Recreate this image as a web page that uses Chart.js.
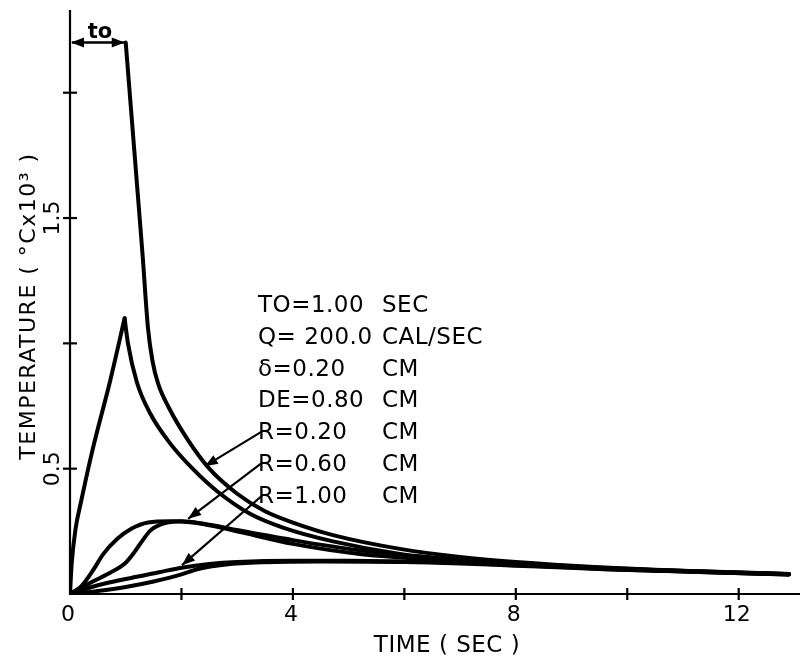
<!doctype html>
<html>
<head>
<script src="https://cdn.jsdelivr.net/npm/chart.js@4.4.0/dist/chart.umd.min.js"></script>
<style>
  body { margin: 0; background: #fff; }
  #wrap { width: 800px; height: 663px; }
</style>
<script>
// time (sec) and temperature (degC x 10^3)
const timeA = [1.0, 1.1, 1.2, 1.3, 1.4, 1.48, 1.58, 1.77, 2.1, 2.5, 3.0, 3.5, 4.0, 4.72, 5.92, 7.0, 8.0, 9.5, 11.3, 12.9];
const tempA = [2.2, 1.92, 1.64, 1.36, 1.06, 0.93, 0.84, 0.745, 0.62, 0.5, 0.4, 0.33, 0.285, 0.235, 0.18, 0.148, 0.128, 0.107, 0.09, 0.08];

const timeB = [0, 0.03, 0.1, 0.2, 0.41, 0.72, 0.98, 1.04, 1.2, 1.44, 1.8, 2.2, 2.64, 3.23, 3.82, 4.72, 5.92, 7.0, 8.0, 9.5, 11.3, 12.9];
const tempB = [0, 0.12, 0.26, 0.37, 0.58, 0.85, 1.1, 1.0, 0.845, 0.72, 0.6, 0.5, 0.41, 0.32, 0.265, 0.21, 0.16, 0.135, 0.12, 0.1, 0.088, 0.078];

const timeC1 = [0, 0.2, 0.4, 0.6, 0.85, 1.1, 1.4, 1.8, 2.2, 2.6, 3.1, 4.0, 5.2, 7.0, 8.0, 9.5, 11.3, 12.9];
const tempC1 = [0, 0.03, 0.09, 0.16, 0.22, 0.26, 0.285, 0.29, 0.285, 0.27, 0.245, 0.2, 0.16, 0.132, 0.12, 0.103, 0.09, 0.079];

const timeC2 = [0, 0.41, 0.72, 1.0, 1.15, 1.3, 1.44, 1.62, 2.0, 2.4, 3.0, 4.0, 5.0, 6.0, 7.0, 8.0, 9.5, 11.3, 12.9];
const tempC2 = [0, 0.05, 0.085, 0.125, 0.165, 0.213, 0.253, 0.277, 0.29, 0.28, 0.255, 0.215, 0.18, 0.155, 0.138, 0.123, 0.105, 0.091, 0.08];

const timeD1 = [0, 0.5, 1.0, 1.6, 2.0, 2.5, 3.0, 4.0, 5.0, 6.0, 7.0, 8.0, 9.5, 11.3, 12.9];
const tempD1 = [0, 0.035, 0.06, 0.087, 0.105, 0.12, 0.128, 0.133, 0.133, 0.13, 0.125, 0.115, 0.102, 0.089, 0.079];

const timeD2 = [0, 0.5, 1.0, 1.5, 2.0, 2.3, 2.8, 3.5, 4.5, 6.0, 7.0, 8.0, 9.5, 11.3, 12.9];
const tempD2 = [0, 0.012, 0.028, 0.05, 0.078, 0.1, 0.118, 0.127, 0.13, 0.128, 0.122, 0.113, 0.1, 0.088, 0.078];

const xTicks = [2, 4, 6, 8, 10, 12];
const xTickLabels = ['0', '4', '8', '12'];
const yTicks = [0.5, 1.0, 1.5, 2.0];
const yTickLabels = ['0.5', '1.5'];

const paramNames = ['TO=1.00', 'Q= 200.0', 'δ=0.20', 'DE=0.80', 'R=0.20', 'R=0.60', 'R=1.00'];
const paramUnits = ['SEC', 'CAL/SEC', 'CM', 'CM', 'CM', 'CM', 'CM'];

const pulseLength = 1.0;
const pulsePeak = 2.2;
// pointer arrows from the R labels to the curves: [fromX, fromY, toX, toY] in data units
const pointers = [
  [3.47, 0.652, 2.42, 0.51],
  [3.45, 0.524, 2.12, 0.30],
  [3.47, 0.397, 2.01, 0.115]
];

function pts(xs, ys) {
  return xs.map(function (x, i) { return { x: x, y: ys[i] }; });
}

function arrowHead(ctx, x1, y1, x2, y2) {
  const a = Math.atan2(y2 - y1, x2 - x1);
  const len = 13, w = 5;
  ctx.beginPath();
  ctx.moveTo(x2, y2);
  ctx.lineTo(x2 - len * Math.cos(a) + w * Math.sin(a), y2 - len * Math.sin(a) - w * Math.cos(a));
  ctx.lineTo(x2 - len * Math.cos(a) - w * Math.sin(a), y2 - len * Math.sin(a) + w * Math.cos(a));
  ctx.closePath();
  ctx.fill();
}

const paperAxes = {
  id: 'paperAxes',
  afterDraw: function (chart) {
    const ctx = chart.ctx;
    const xs = chart.scales.x, ys = chart.scales.y;
    const x0 = xs.getPixelForValue(0), y0 = ys.getPixelForValue(0);
    ctx.save();
    ctx.strokeStyle = '#000';
    ctx.fillStyle = '#000';

    // axis lines
    ctx.lineWidth = 2.2;
    ctx.beginPath();
    ctx.moveTo(x0, chart.chartArea.top);
    ctx.lineTo(x0, y0);
    ctx.lineTo(chart.width, y0);
    ctx.stroke();

    // tick marks crossing the axes
    xTicks.forEach(function (v) {
      const p = xs.getPixelForValue(v);
      ctx.beginPath(); ctx.moveTo(p, y0 - 6); ctx.lineTo(p, y0 + 6); ctx.stroke();
    });
    yTicks.forEach(function (v) {
      const p = ys.getPixelForValue(v);
      ctx.beginPath(); ctx.moveTo(x0 - 7, p); ctx.lineTo(x0 + 7, p); ctx.stroke();
    });

    // tick labels
    ctx.font = '22px "DejaVu Sans"';
    ctx.textAlign = 'center';
    ctx.textBaseline = 'middle';
    xTickLabels.forEach(function (t) {
      ctx.fillText(t, xs.getPixelForValue(Number(t)) - 2, y0 + 21);
    });
    yTickLabels.forEach(function (t) {
      ctx.save();
      ctx.translate(x0 - 17, ys.getPixelForValue(Number(t)));
      ctx.rotate(-Math.PI / 2);
      ctx.fillText(t, 0, 0);
      ctx.restore();
    });

    // axis titles
    ctx.save();
    ctx.translate(29, 306);
    ctx.rotate(-Math.PI / 2);
    ctx.font = '22px "DejaVu Sans"';
    ctx.letterSpacing = '1.5px';
    ctx.fillText('TEMPERATURE ( °Cx10³ )', 0, 0);
    ctx.restore();

    ctx.font = '23px "DejaVu Sans"';
    ctx.letterSpacing = '0.5px';
    ctx.fillText('TIME ( SEC )', 447, 646);
    ctx.letterSpacing = '0px';

    // pulse length arrow
    const pe = xs.getPixelForValue(pulseLength), pk = ys.getPixelForValue(pulsePeak);
    ctx.lineWidth = 2.5;
    ctx.beginPath(); ctx.moveTo(x0 + 2, pk); ctx.lineTo(pe, pk); ctx.stroke();
    arrowHead(ctx, pe, pk, x0 + 1, pk);
    arrowHead(ctx, x0, pk, pe - 1, pk);
    ctx.font = 'bold 21px "DejaVu Sans"';
    ctx.fillText('to', (x0 + pe) / 2 + 2, pk - 10);

    // parameter block
    ctx.font = '23px "DejaVu Sans"';
    ctx.textAlign = 'left';
    ctx.letterSpacing = '0.5px';
    paramNames.forEach(function (n, i) {
      const yy = 306 + i * 31.8;
      ctx.fillText(n, 258, yy);
      ctx.fillText(paramUnits[i], 382, yy);
    });
    ctx.letterSpacing = '0px';

    // pointer arrows
    ctx.lineWidth = 2.2;
    pointers.forEach(function (p) {
      const ax = xs.getPixelForValue(p[0]), ay = ys.getPixelForValue(p[1]);
      const bx = xs.getPixelForValue(p[2]), by = ys.getPixelForValue(p[3]);
      ctx.beginPath(); ctx.moveTo(ax, ay); ctx.lineTo(bx, by); ctx.stroke();
      arrowHead(ctx, ax, ay, bx, by);
    });
    ctx.restore();
  }
};

function start() {
  const style = { borderColor: '#000', borderWidth: 4, pointRadius: 0, cubicInterpolationMode: 'monotone', fill: false, borderCapStyle: 'round', borderJoinStyle: 'round' };
  // curve B has a sharp peak at the end of the pulse: draw rise and fall separately
  const pB = tempB.indexOf(Math.max.apply(null, tempB));
  const datasets = [
    Object.assign({ label: 'A', data: pts(timeA, tempA) }, style),
    Object.assign({ label: 'B rise', data: pts(timeB.slice(0, pB + 1), tempB.slice(0, pB + 1)) }, style),
    Object.assign({ label: 'B fall', data: pts(timeB.slice(pB), tempB.slice(pB)) }, style),
    Object.assign({ label: 'C1', data: pts(timeC1, tempC1) }, style),
    Object.assign({ label: 'C2', data: pts(timeC2, tempC2) }, style),
    Object.assign({ label: 'D1', data: pts(timeD1, tempD1) }, style),
    Object.assign({ label: 'D2', data: pts(timeD2, tempD2) }, style)
  ];
  new Chart(document.getElementById('chart').getContext('2d'), {
    type: 'line',
    data: { datasets: datasets },
    options: {
      responsive: true,
      maintainAspectRatio: false,
      animation: false,
      layout: { padding: { left: 70, right: 0, top: 10, bottom: 69 } },
      plugins: { legend: { display: false }, tooltip: { enabled: false } },
      scales: {
        x: { type: 'linear', min: 0, max: 13.1, display: false },
        y: { type: 'linear', min: 0, max: 2.33, display: false }
      }
    },
    plugins: [paperAxes]
  });
}
</script>
</head>
<body onload="start()">
<div id="wrap"><canvas id="chart"></canvas></div>
</body>
</html>
